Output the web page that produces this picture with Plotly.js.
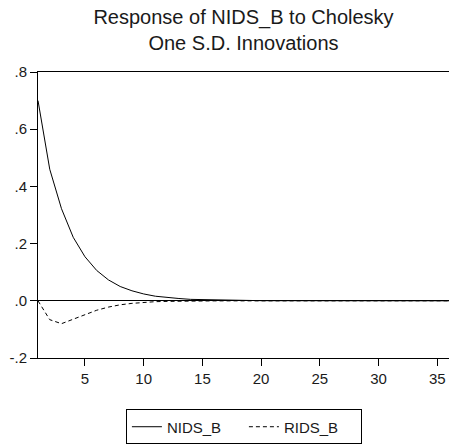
<!DOCTYPE html>
<html>
<head>
<meta charset="utf-8">
<script src="https://cdn.plot.ly/plotly-3.0.1.min.js"></script>
<style>html,body{margin:0;padding:0;background:#fff;} #chart{width:450px;height:445px;}</style>
</head>
<body>
<div id="chart"></div>
<script>
var periods = [1,2,3,4,5,6,7,8,9,10,11,12,13,14,15,16,17,18,19,20,21,22,23,24,25,26,27,28,29,30,31,32,33,34,35,36];
var nidsB = [0.700,0.460,0.322,0.222,0.154,0.106,0.073,0.050,0.035,0.024,0.016,0.011,0.008,0.005,0.004,0.002,0.002,0.001,0.001,0.0005,0.0004,0.0003,0.0002,0.0001,0.0001,0,0,0,0,0,0,0,0,0,0,0];
var ridsB = [0,-0.066,-0.080,-0.064,-0.047,-0.033,-0.022,-0.014,-0.009,-0.005,-0.003,-0.002,-0.001,-0.001,-0.0005,-0.0003,-0.0002,-0.0001,0,0,0,0,0,0,0,0,0,0,0,0,0,0,0,0,0,0];
var yTickVals = [-0.2,0,0.2,0.4,0.6,0.8];
var yTickText = ["-.2",".0",".2",".4",".6",".8"];
var xTickVals = [5,10,15,20,25,30,35];
var titleText = "Response of NIDS_B to Cholesky<br>One S.D. Innovations";

var font = '"Liberation Sans", Arial, sans-serif';
var traces = [
  {x: periods, y: nidsB, name: "NIDS_B", type: "scatter", mode: "lines",
   line: {color: "#000", width: 1}},
  {x: periods, y: ridsB, name: "RIDS_B", type: "scatter", mode: "lines",
   line: {color: "#000", width: 1, dash: "4px,3px"}}
];
var layout = {
  width: 450, height: 445,
  margin: {l: 38, r: 1, t: 72, b: 84},
  paper_bgcolor: "#fff", plot_bgcolor: "#fff",
  font: {family: font, color: "#1a1a1a", size: 15},
  title: {text: titleText, x: 0.5, xref: "paper", y: 0.946, yref: "container", yanchor: "top",
          font: {family: font, size: 20, color: "#1a1a1a"}},
  showlegend: true,
  legend: {orientation: "h", x: 0.501, xanchor: "center", y: -0.18, yanchor: "top",
           bordercolor: "#000", borderwidth: 1, font: {size: 15},
           entrywidth: 72, entrywidthmode: "pixels"},
  xaxis: {range: [1, 36], tickvals: xTickVals, ticks: "outside", ticklen: 7, tickwidth: 1,
          tickcolor: "#000", showline: true, linecolor: "#000", linewidth: 1, mirror: true,
          showgrid: false, zeroline: false, tickfont: {size: 15}},
  yaxis: {range: [-0.2, 0.8], tickvals: yTickVals, ticktext: yTickText, ticks: "outside",
          ticklen: 7, tickwidth: 1, tickcolor: "#000", showline: true, linecolor: "#000",
          linewidth: 1, showgrid: false, zeroline: true, zerolinecolor: "#000", zerolinewidth: 1,
          tickfont: {size: 15}}
};
Plotly.newPlot("chart", traces, layout, {displayModeBar: false, staticPlot: true});
</script>
</body>
</html>
